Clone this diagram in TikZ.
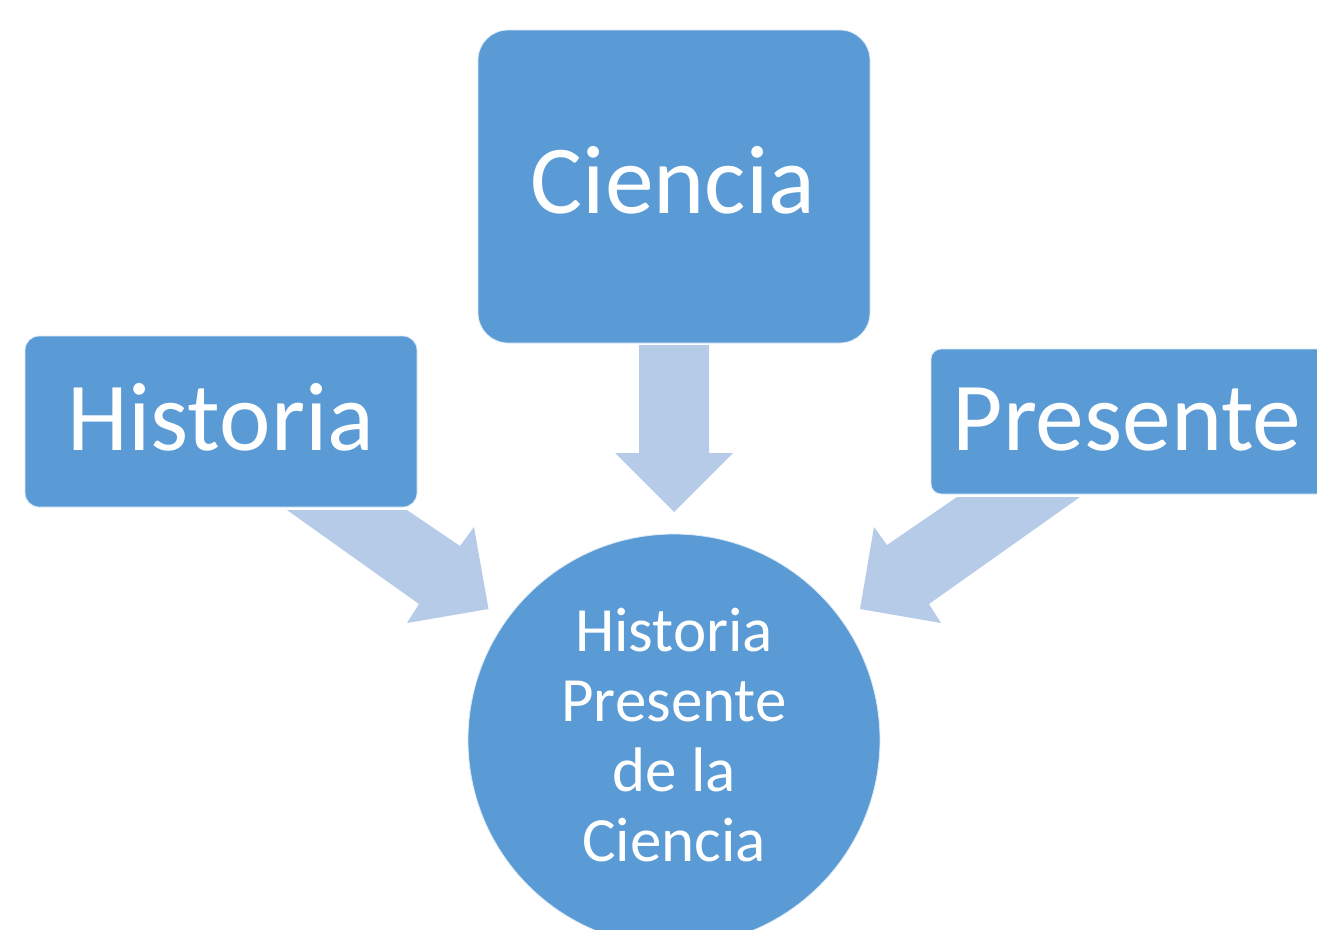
\documentclass[tikz,border=0pt]{standalone}
\usepackage{fontspec}
\setmainfont{Carlito}
\definecolor{boxblue}{HTML}{5B9BD5}
\definecolor{arrowblue}{HTML}{B6CBE8}
\begin{document}
\begin{tikzpicture}[x=1pt,y=-1pt,
  box/.style={fill=boxblue,draw=white!80!boxblue,line width=0.8pt,inner sep=0pt},
  bigtext/.style={text=white,anchor=base,inner sep=0pt,font=\fontsize{97.5}{97.5}\selectfont},
  circtext/.style={text=white,anchor=base,inner sep=0pt,font=\fontsize{63}{63}\selectfont},
  blockarrow/.style={fill=arrowblue,draw=none}]
\useasboundingbox (0,0) rectangle (1317,929);
\fill[white] (0,0) rectangle (1317,929);
% boxes
\draw[box,rounded corners=30pt] (478,30) rectangle (870,343);
\node[box,minimum width=0pt,minimum height=0pt] (ciencia) at (674,186.5) {};
\draw[box,rounded corners=14pt] (25,336) rectangle (417,507);
\node[inner sep=0pt] (historia) at (221,421.5) {};
\draw[box,rounded corners=10pt] (931,349) rectangle (1340,494);
\node[inner sep=0pt] (presente) at (1127,421.5) {};
% circle
\node[circle,fill=boxblue,draw=white!80!boxblue,line width=0.8pt,minimum size=412pt,inner sep=0pt] (hpc) at (674,740) {};
% texts
\node[bigtext] (tc) at (673,213) {Ciencia};
\node[bigtext] (th) at (221,450) {Historia};
\node[bigtext] (tp) at (1127,450) {Presente};
\node[circtext] (l1) at (674,651) {Historia};
\node[circtext] (l2) at (674,721) {Presente};
\node[circtext] (l3) at (674,791) {de la};
\node[circtext] (l4) at (674,861) {Ciencia};
% arrows
\fill[blockarrow] (639,345) -- (709,345) -- (709,453) -- (733,453) -- (674,512) -- (615,453) -- (639,453) -- cycle;
\fill[blockarrow] (287,510) -- (407,510) -- (460,546) -- (474,527) -- (488.5,609) -- (407,623) -- (419,604) -- cycle;
\fill[blockarrow] (1080,497) -- (957,497) -- (887,545) -- (874,527) -- (860,609) -- (941,623) -- (929,604) -- cycle;
\end{tikzpicture}
\end{document}
